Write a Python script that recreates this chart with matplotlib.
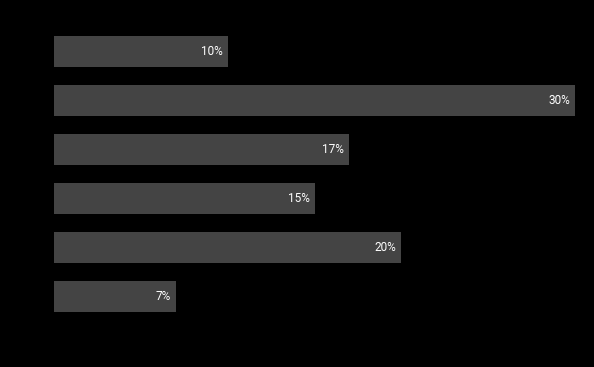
import matplotlib
matplotlib.use("Agg")
import matplotlib.pyplot as plt

categories = ["A", "B", "C", "D", "E", "F"]
values = [10, 30, 17, 15, 20, 7]
labels = ["10%", "30%", "17%", "15%", "20%", "7%"]

plt.rcParams['font.family'] = ['Roboto', 'DejaVu Sans']

W, H = 594, 367
fig = plt.figure(figsize=(W / 100, H / 100), dpi=100, facecolor="black")
ax = fig.add_axes([54 / W, 1 - 321 / H, 521 / W, 294 / H])
ax.set_facecolor("black")

ypos = list(range(len(categories)))
ax.barh(ypos, values, height=31 / 49, color="#444444", edgecolor="none")
ax.set_xlim(0, 30)
ax.set_ylim(len(categories) - 0.5, -0.5)

for y, v, t in zip(ypos, values, labels):
    ax.annotate(t, xy=(v, y), xytext=(-3.6, 0), textcoords="offset points",
                ha="right", va="center", color="white", fontsize=8.5)

for s in ax.spines.values():
    s.set_visible(False)
ax.set_xticks([])
ax.set_yticks([])

fig.savefig("out.png", dpi=100, facecolor="black")
